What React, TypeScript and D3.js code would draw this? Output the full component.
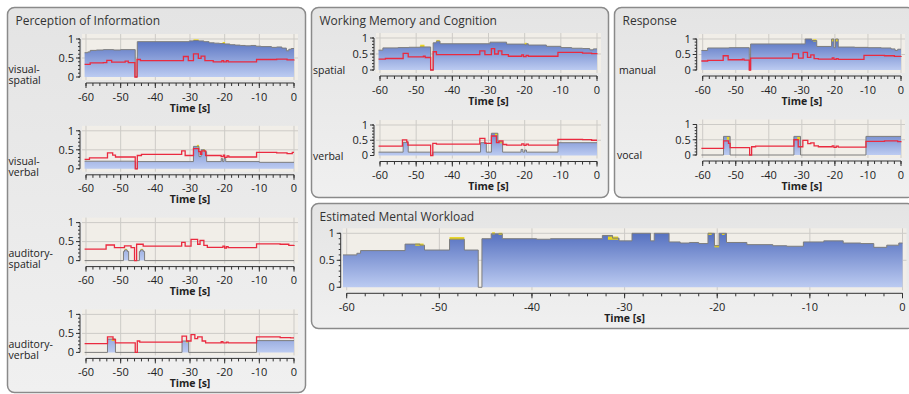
import React from 'react';
import * as d3 from 'd3';

type Pt = [number, number];
type Patch = [number, number, number, number];

const FONT = "'Open Sans', 'Noto Sans', sans-serif";

const timeTicks = [-60, -50, -40, -30, -20, -10, 0];
const loadTicks = [0, 0.5, 1];
const loadTickLabels = ['0', '0.5', '1'];

// ---- Perception of Information ----
const visualSpatialLoad: Pt[] = [
  [-60.4, 0.64], [-59.5, 0.66], [-58.8, 0.7], [-57, 0.71], [-55, 0.72], [-52, 0.71], [-50, 0.72],
  [-45.8, 0], [-45.2, 0.93], [-30.2, 0.95], [-29, 0.96], [-27.5, 0.95], [-26, 0.93], [-24.5, 0.9],
  [-23, 0.89], [-21.5, 0.88], [-20, 0.87], [-18.5, 0.85], [-17, 0.84], [-15.5, 0.83], [-14, 0.82],
  [-12.5, 0.83], [-11, 0.81], [-9.5, 0.8], [-6.5, 0.78], [-5, 0.79], [-3.5, 0.76], [-2.2, 0.69],
  [-1.5, 0.73], [-0.8, 0.75], [0, 0.75],
];
const visualSpatialDemand: Pt[] = [
  [-60.4, 0.33], [-58.8, 0.37], [-55, 0.38], [-54, 0.44], [-52.6, 0.39], [-48.7, 0.42], [-47.8, 0.38],
  [-45.9, 0], [-45.3, 0.46], [-44.3, 0.43], [-31.9, 0.54], [-30.5, 0.43], [-29, 0.61], [-27.6, 0.49],
  [-26.8, 0.55], [-25.7, 0.43], [-23.3, 0.4], [-20.8, 0.43], [-20.3, 0.4], [-19.5, 0.43], [-19, 0.4],
  [-10.8, 0.46], [-5, 0.47], [-2, 0.45], [0, 0.46],
];
const visualSpatialExcess: Patch[] = [[-29, -27.5, 0.96, 0.99], [-20.6, -19.9, 0.87, 0.92]];

const visualVerbalLoad: Pt[] = [
  [-60.4, 0.2], [-45.7, 0], [-45.2, 0.19], [-29, 0.59], [-27.4, 0.32], [-26.8, 0.5], [-25.8, 0.45],
  [-25.2, 0.19], [-21, 0.27], [-20.6, 0.19], [-20.2, 0.27], [-19.7, 0.19], [-10, 0.17], [0, 0.17],
];
const visualVerbalDemand: Pt[] = [
  [-60.4, 0.25], [-59, 0.29], [-53.8, 0.42], [-52.3, 0.36], [-51.5, 0.31], [-45.8, 0], [-45.2, 0.35],
  [-44, 0.38], [-32.4, 0.47], [-31.4, 0.35], [-29, 0.53], [-27.5, 0.45], [-27, 0.38], [-26.6, 0.47],
  [-25.5, 0.35], [-21, 0.32], [-20.4, 0.36], [-20, 0.3], [-19.3, 0.34], [-18.8, 0.31], [-10.8, 0.43],
  [-5, 0.42], [-2, 0.4], [-0.5, 0.43], [0, 0.43],
];
const visualVerbalExcess: Patch[] = [[-28, -27.4, 0.56, 0.63], [-26.2, -25.8, 0.45, 0.52]];

const auditorySpatialLoad: Pt[] = [
  [-60.4, 0], [-49.2, 0.24], [-48.9, 0.28], [-48.1, 0.24], [-47.7, 0], [-44.6, 0.24], [-44.3, 0.28],
  [-43.5, 0.24], [-43.1, 0], [0, 0],
];
const auditorySpatialDemand: Pt[] = [
  [-60.4, 0.3], [-54.2, 0.41], [-51.8, 0.34], [-48.9, 0.39], [-47, 0.34], [-46, 0], [-45.4, 0.43],
  [-43.5, 0.38], [-32.4, 0.48], [-31.4, 0.38], [-29.7, 0.56], [-27.8, 0.43], [-27.1, 0.53], [-26, 0.4],
  [-25, 0.35], [-20.5, 0.38], [-20, 0.33], [-19.5, 0.37], [-19, 0.34], [-10.8, 0.44], [-4, 0.43],
  [-1.5, 0.4], [0, 0.41],
];
const auditorySpatialExcess: Patch[] = [[-48.8, -48.2, 0.28, 0.31], [-44.2, -43.6, 0.28, 0.31]];

const auditoryVerbalLoad: Pt[] = [
  [-60.4, 0], [-53.8, 0.35], [-51.5, 0], [-32.3, 0.3], [-30.4, 0], [-10.8, 0.31], [0, 0.31],
];
const auditoryVerbalDemand: Pt[] = [
  [-60.4, 0.23], [-53.8, 0.41], [-52.2, 0.34], [-51.5, 0.25], [-45.8, 0], [-45.2, 0.3], [-44.5, 0.27],
  [-32.3, 0.43], [-31, 0.3], [-29.7, 0.47], [-28.6, 0.36], [-27.8, 0.41], [-26.5, 0.3], [-25.5, 0.25],
  [-21, 0.28], [-20.5, 0.25], [-19.5, 0.27], [-19, 0.25], [-10.8, 0.41], [-4, 0.39], [-1, 0.38], [0, 0.38],
];
const auditoryVerbalExcess: Patch[] = [[-52.6, -51.7, 0.3, 0.36], [-31.2, -30.5, 0.26, 0.3]];

// ---- Working Memory and Cognition ----
const wmSpatialLoad: Pt[] = [
  [-60.4, 0.62], [-59.2, 0.69], [-55, 0.7], [-52, 0.71], [-49, 0.72], [-46, 0], [-45.3, 0.85],
  [-44.4, 0.9], [-43.4, 0.82], [-29.6, 0.87], [-25, 0.81], [-20, 0.79], [-19.5, 0.82], [-19, 0.78],
  [-14, 0.74], [-10, 0.7], [-7, 0.68], [-4, 0.67], [-2, 0.63], [-1, 0.66], [0, 0.66],
];
const wmSpatialDemand: Pt[] = [
  [-60.4, 0.34], [-58.5, 0.36], [-53.6, 0.52], [-52.2, 0.41], [-48, 0.43], [-47.5, 0.39], [-46, 0],
  [-45.3, 0.57], [-44.4, 0.48], [-32.4, 0.6], [-31, 0.48], [-29.2, 0.67], [-28.3, 0.5], [-27.3, 0.6],
  [-26.3, 0.48], [-24.5, 0.43], [-20.8, 0.47], [-20.3, 0.42], [-19.6, 0.46], [-19, 0.43], [-10.8, 0.55],
  [-4, 0.53], [-1.5, 0.51], [0, 0.52],
];
const wmSpatialExcess: Patch[] = [[-48.9, -47.7, 0.72, 0.79], [-44.4, -43.5, 0.9, 0.94], [-20, -19.4, 0.8, 0.85]];

const wmVerbalLoad: Pt[] = [
  [-60.4, 0.11], [-53.6, 0.43], [-52.2, 0.11], [-46, 0], [-45.4, 0.11], [-32.2, 0.42], [-30.6, 0.11],
  [-29.2, 0.73], [-27.4, 0.45], [-26.1, 0.11], [-21, 0.2], [-20.5, 0.11], [-20, 0.18], [-19.5, 0.11],
  [-10.8, 0.42], [0, 0.42],
];
const wmVerbalDemand: Pt[] = [
  [-60.4, 0.31], [-53.8, 0.51], [-52.6, 0.45], [-52.3, 0.34], [-46, 0], [-45.4, 0.4], [-44.4, 0.37],
  [-32.4, 0.56], [-31, 0.4], [-29.2, 0.64], [-27.8, 0.42], [-27.1, 0.48], [-26, 0.36], [-25, 0.34],
  [-20.8, 0.38], [-20.2, 0.33], [-19.6, 0.37], [-19, 0.34], [-10.8, 0.53], [-4, 0.52], [-1.5, 0.5], [0, 0.5],
];
const wmVerbalExcess: Patch[] = [[-28.2, -27.4, 0.66, 0.73], [-26.8, -26.2, 0.4, 0.45]];

// ---- Response ----
const manualLoad: Pt[] = [
  [-60.4, 0.63], [-58.5, 0.71], [-52, 0.72], [-45.9, 0], [-45.5, 0.84], [-29, 1.0], [-27, 0.95],
  [-25.5, 0.76], [-21, 1.0], [-20.3, 0.72], [-19.8, 1.0], [-19, 0.74], [-14, 0.73], [-10, 0.72],
  [-6, 0.71], [-3, 0.68], [-1.8, 0.63], [-1, 0.67], [0, 0.67],
];
const manualDemand: Pt[] = [
  [-60.4, 0.29], [-58.5, 0.31], [-53.8, 0.46], [-52.3, 0.33], [-48, 0.35], [-47.5, 0.32], [-45.9, 0],
  [-45.5, 0.38], [-32.8, 0.52], [-31, 0.38], [-29.6, 0.57], [-28.3, 0.41], [-27.3, 0.49], [-26.3, 0.37],
  [-25, 0.35], [-20.8, 0.39], [-20.3, 0.34], [-19.6, 0.37], [-19, 0.34], [-11.2, 0.47], [-5, 0.46],
  [-2, 0.44], [0, 0.45],
];
const manualExcess: Patch[] = [[-26.6, -25.6, 0.92, 0.99], [-20.9, -20.4, 0.92, 1.0], [-19.7, -19.1, 0.92, 1.0]];

const vocalLoad: Pt[] = [
  [-60.4, 0], [-53.7, 0.61], [-51.7, 0], [-32.4, 0.61], [-30.4, 0], [-10.6, 0.61], [0, 0.61],
];
const vocalDemand: Pt[] = [
  [-60.4, 0.22], [-53.7, 0.46], [-52.2, 0.38], [-51.7, 0.24], [-45.8, 0], [-45.2, 0.27], [-44, 0.29],
  [-32.4, 0.5], [-31.1, 0.27], [-29.7, 0.48], [-28.2, 0.37], [-27.3, 0.4], [-26.3, 0.3], [-25, 0.27],
  [-20.8, 0.3], [-20.3, 0.25], [-19.6, 0.29], [-19, 0.26], [-10.6, 0.45], [-5, 0.46], [-1, 0.44], [0, 0.45],
];
const vocalExcess: Patch[] = [[-52.7, -51.9, 0.5, 0.6], [-31.4, -30.6, 0.5, 0.6]];

// ---- Estimated Mental Workload ----
const workloadTotal: Pt[] = [
  [-60.4, 0.6], [-58.9, 0.63], [-58.5, 0.68], [-55, 0.68], [-53.7, 0.8], [-52.1, 0.78], [-51.6, 0.69],
  [-48.9, 0.89], [-47.3, 0.69], [-45.8, 0], [-45.4, 0.9], [-44.4, 0.99], [-43.2, 0.9], [-40, 0.9],
  [-39.5, 0.89], [-38, 0.9], [-32.4, 0.96], [-31.3, 0.91], [-30.6, 0.86], [-29.2, 1.0], [-27.2, 0.86],
  [-26.8, 1.0], [-25.2, 0.84], [-24, 0.82], [-23, 0.83], [-22, 0.81], [-21, 1.0], [-20.3, 0.77],
  [-19.8, 1.0], [-19, 0.83], [-16.8, 0.79], [-14, 0.77], [-12.5, 0.76], [-10.7, 0.84], [-8.5, 0.86],
  [-6.4, 0.82], [-4.5, 0.81], [-3.1, 0.74], [-1.7, 0.78], [-0.4, 0.82], [0, 0.82],
];
const workloadExcess: Patch[] = [
  [-52.6, -51.7, 0.77, 0.81], [-48.9, -47.3, 0.88, 0.93], [-44.3, -44, 0.98, 1.02], [-43.6, -43.2, 0.97, 1.01],
  [-31.8, -30.7, 0.88, 0.94], [-21, -20.6, 0.97, 1.01], [-20.3, -19.8, 0.74, 0.78], [-19.5, -19.2, 0.97, 1.0],
];

type Frame = { x0: number; x1: number; y1: number; y0: number; id: string };

function Strip({ f, load, demand, excess }: { f: Frame; load: Pt[]; demand?: Pt[]; excess: Patch[] }) {
  const x = d3.scaleLinear().domain([-60, 0]).range([f.x0, f.x1]);
  const y = d3.scaleLinear().domain([0, 1]).range([f.y0, f.y1]);
  const area = d3.area<Pt>().x(d => x(d[0])).y0(y(0)).y1(d => y(d[1])).curve(d3.curveStepAfter);
  const line = d3.line<Pt>().x(d => x(d[0])).y(d => y(d[1])).curve(d3.curveStepAfter);
  const bgL = f.x0 - 4, bgR = f.x1 + 4, bgT = f.y1 - 5, bgB = f.y0 + 3;
  const ax = f.x0 - 6;
  const axY = f.y0 + 6;
  return (
    <g>
      <defs>
        <linearGradient id={f.id} gradientUnits="userSpaceOnUse" x1={0} y1={y(1)} x2={0} y2={y(0)}>
          <stop offset="0%" stopColor="#5671c0" />
          <stop offset="100%" stopColor="#bccbf1" />
        </linearGradient>
      </defs>
      <rect x={bgL} y={bgT} width={bgR - bgL} height={bgB - bgT} fill="#f1eee8" />
      {timeTicks.map(t => (
        <line key={'gx' + t} x1={x(t)} x2={x(t)} y1={bgT} y2={bgB} stroke="#cdcbc7" strokeWidth={1} />
      ))}
      {[0.5, 1].map(v => (
        <line key={'gy' + v} x1={bgL} x2={bgR} y1={y(v)} y2={y(v)} stroke="#cdcbc7" strokeWidth={1} />
      ))}
      <path d={area(load) || ''} fill={`url(#${f.id})`} />
      {excess.map((p, i) => (
        <rect key={'ex' + i} x={x(p[0])} width={x(p[1]) - x(p[0])} y={y(p[3])} height={y(p[2]) - y(p[3])}
          fill="#e9d51e" />
      ))}
      <path d={line(load) || ''} fill="none" stroke="#7d7d7d" strokeWidth={1} />
      {demand && <path d={line(demand) || ''} fill="none" stroke="#ea2a3f" strokeWidth={1.3} />}
      {/* y axis */}
      <line x1={ax} x2={ax} y1={y(0)} y2={y(1)} stroke="#333" />
      {y.ticks(10).map(v => (
        <line key={'ym' + v} x1={ax - 2} x2={ax} y1={y(v)} y2={y(v)} stroke="#333" />
      ))}
      {loadTicks.map((v, i) => (
        <g key={'yt' + v}>
          <line x1={ax - 4} x2={ax} y1={y(v)} y2={y(v)} stroke="#333" />
          <text x={ax - 6} y={y(v)} dy="0.35em" textAnchor="end" fontSize={11} fill="#222">{loadTickLabels[i]}</text>
        </g>
      ))}
      {/* x axis */}
      <line x1={x(-60)} x2={x(0)} y1={axY} y2={axY} stroke="#333" />
      {x.ticks(30).map(t => (
        <line key={'xm' + t} x1={x(t)} x2={x(t)} y1={axY} y2={axY + 3} stroke="#333" />
      ))}
      {timeTicks.map(t => (
        <g key={'xt' + t}>
          <line x1={x(t)} x2={x(t)} y1={axY} y2={axY + 5} stroke="#333" />
          <text x={x(t)} y={f.y0 + 23.5} textAnchor="middle" fontSize={11} fill="#222">{t}</text>
        </g>
      ))}
      <text x={x(-30)} y={f.y0 + 34.5} textAnchor="middle" fontSize={10.5} fontWeight="bold" fill="#222">Time [s]</text>
    </g>
  );
}

function Panel({ x, y, w, h, title }: { x: number; y: number; w: number; h: number; title: string }) {
  return (
    <g>
      <rect x={x} y={y} width={w} height={h} rx={7} fill="url(#panelBg)" stroke="#8a8a8a" strokeWidth={1.5} />
      <text x={x + 8} y={y + 17} fontSize={12} fill="#333">{title}</text>
    </g>
  );
}

function RowLabel({ x, y, lines }: { x: number; y: number; lines: string[] }) {
  return (
    <g fontSize={10.5} fill="#222">
      {lines.map((l, i) => (
        <text key={i} x={x} y={y + i * 11}>{l}</text>
      ))}
    </g>
  );
}

const rowStep = 91.8;
const perception = [0, 1, 2, 3].map(i => ({
  x0: 86, x1: 294, y1: 39 + rowStep * i, y0: 77 + rowStep * i, id: 'gp' + i,
}));

export default function App() {
  return (
    <svg width={909} height={394} style={{ position: 'absolute', left: 0, top: 0, background: '#fff' }}
      fontFamily={FONT}>
      <defs>
        <linearGradient id="panelBg" x1="0" y1="0" x2="0" y2="1">
          <stop offset="0%" stopColor="#e4e4e4" />
          <stop offset="100%" stopColor="#f0f0f0" />
        </linearGradient>
      </defs>
      <Panel x={7.5} y={7.5} w={298} h={385} title="Perception of Information" />
      <Panel x={311.5} y={7.5} w={297} h={190} title="Working Memory and Cognition" />
      <Panel x={614.5} y={7.5} w={300} h={190} title="Response" />
      <Panel x={311.5} y={203.5} w={603} h={125} title="Estimated Mental Workload" />

      <Strip f={perception[0]} load={visualSpatialLoad} demand={visualSpatialDemand} excess={visualSpatialExcess} />
      <Strip f={perception[1]} load={visualVerbalLoad} demand={visualVerbalDemand} excess={visualVerbalExcess} />
      <Strip f={perception[2]} load={auditorySpatialLoad} demand={auditorySpatialDemand} excess={auditorySpatialExcess} />
      <Strip f={perception[3]} load={auditoryVerbalLoad} demand={auditoryVerbalDemand} excess={auditoryVerbalExcess} />
      <RowLabel x={8.5} y={perception[0].y0 - 4} lines={['visual-', 'spatial']} />
      <RowLabel x={8.5} y={perception[1].y0 - 4} lines={['visual-', 'verbal']} />
      <RowLabel x={8.5} y={perception[2].y0 - 4} lines={['auditory-', 'spatial']} />
      <RowLabel x={8.5} y={perception[3].y0 - 4} lines={['auditory-', 'verbal']} />

      <Strip f={{ x0: 380, x1: 597, y1: 38, y0: 70, id: 'gw0' }} load={wmSpatialLoad} demand={wmSpatialDemand} excess={wmSpatialExcess} />
      <Strip f={{ x0: 380, x1: 597, y1: 125, y0: 155.5, id: 'gw1' }} load={wmVerbalLoad} demand={wmVerbalDemand} excess={wmVerbalExcess} />
      <RowLabel x={313} y={74} lines={['spatial']} />
      <RowLabel x={313} y={159.5} lines={['verbal']} />

      <Strip f={{ x0: 702.7, x1: 901, y1: 39, y0: 70, id: 'gr0' }} load={manualLoad} demand={manualDemand} excess={manualExcess} />
      <Strip f={{ x0: 702.7, x1: 901, y1: 124.5, y0: 155, id: 'gr1' }} load={vocalLoad} demand={vocalDemand} excess={vocalExcess} />
      <RowLabel x={619} y={74} lines={['manual']} />
      <RowLabel x={617} y={159} lines={['vocal']} />

      <Strip f={{ x0: 346.7, x1: 902.5, y1: 233.3, y0: 287.3, id: 'ge' }} load={workloadTotal} excess={workloadExcess} />
    </svg>
  );
}
